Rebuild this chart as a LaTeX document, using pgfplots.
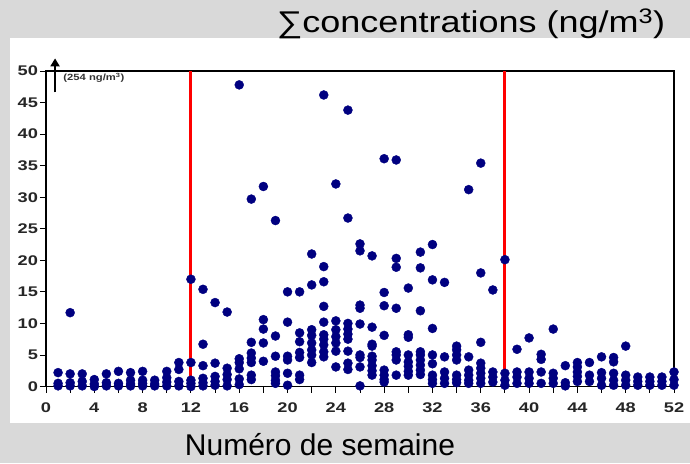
\documentclass[border=0pt]{standalone}
\usepackage{pgfplots}
\pgfplotsset{compat=1.18}
\usepackage{pgfplotstable}
\usepackage{graphicx}
\usepackage{fontspec}
\setmainfont{Liberation Sans}
\usetikzlibrary{arrows.meta,calc}

\pgfdeclarelayer{background}
\pgfsetlayers{background,main}

\definecolor{bggray}{RGB}{217,217,217}
\definecolor{navydot}{RGB}{0,0,128}
\definecolor{redline}{RGB}{255,0,0}

% weekly concentrations (ng/m3), one row per sample
\pgfplotstableread{
week conc
1 0.1
1 0.5
1 2.2
2 0.1
2 0.6
2 2.0
2 11.7
3 0.1
3 0.8
3 2.0
4 0.0
4 0.4
4 1.1
5 0.1
5 0.6
5 2.0
6 0.1
6 0.5
6 2.4
7 0.1
7 0.4
7 1.0
7 2.2
8 0.1
8 0.5
8 1.0
8 2.4
9 0.1
9 0.4
9 1.0
10 0.1
10 0.7
10 1.4
10 2.4
11 0.1
11 0.8
11 2.7
11 3.8
12 0.0
12 0.5
12 1.0
12 3.8
12 17.0
13 0.1
13 0.6
13 1.3
13 3.3
13 6.7
13 15.4
14 0.2
14 0.8
14 1.6
14 3.7
14 13.3
15 0.1
15 1.1
15 1.9
15 2.9
15 11.8
16 0.3
16 1.2
16 2.8
16 3.8
16 4.4
16 47.8
17 1.1
17 1.8
17 3.8
17 4.5
17 5.3
17 7.0
17 29.7
18 4.0
18 6.9
18 9.1
18 10.6
18 31.7
19 0.5
19 1.0
19 1.7
19 2.3
19 4.8
19 8.0
19 26.3
20 0.2
20 2.1
20 4.2
20 4.8
20 10.2
20 15.0
21 1.1
21 1.8
21 4.6
21 5.4
21 7.1
21 8.5
21 15.0
22 3.8
22 5.0
22 5.8
22 6.9
22 8.1
22 9.0
22 16.1
22 21.0
23 4.7
23 5.5
23 6.6
23 7.5
23 8.2
23 10.2
23 12.7
23 16.6
23 19.0
23 46.2
24 3.1
24 5.6
24 6.9
24 7.9
24 9.0
24 10.4
24 32.1
25 2.7
25 3.7
25 5.6
25 7.5
25 8.3
25 9.1
25 10.0
25 26.7
25 43.8
26 0.1
26 3.1
26 4.6
26 5.0
26 9.9
26 12.4
26 12.9
26 21.5
26 22.6
27 1.8
27 2.5
27 3.3
27 4.2
27 4.8
27 6.4
27 6.7
27 9.4
27 20.7
28 0.7
28 1.1
28 1.8
28 2.6
28 8.1
28 12.8
28 14.9
28 36.1
29 1.8
29 4.2
29 5.0
29 5.5
29 12.4
29 18.9
29 20.3
29 35.9
30 1.8
30 2.4
30 3.2
30 3.9
30 5.0
30 7.8
30 8.2
30 15.6
31 1.9
31 2.6
31 3.4
31 4.2
31 5.0
31 5.5
31 12.0
31 18.8
31 21.3
32 0.5
32 1.1
32 1.8
32 3.6
32 5.0
32 9.2
32 16.9
32 22.5
33 0.5
33 1.3
33 2.3
33 4.7
33 16.5
34 0.6
34 1.1
34 1.8
34 4.2
34 5.0
34 5.8
34 6.4
35 0.5
35 1.0
35 1.8
35 2.6
35 4.7
35 31.2
36 0.5
36 1.3
36 2.1
36 2.9
36 3.7
36 7.0
36 18.0
36 35.4
37 0.7
37 1.5
37 2.3
37 15.3
38 0.2
38 1.0
38 2.1
38 20.1
39 0.5
39 1.5
39 2.3
39 5.9
40 0.5
40 1.3
40 2.3
40 7.7
41 0.5
41 2.3
41 4.3
41 5.1
42 0.5
42 1.3
42 2.1
42 9.1
43 0.1
43 0.6
43 3.3
44 0.8
44 1.6
44 2.3
44 3.1
44 3.8
45 0.8
45 1.8
45 3.8
46 0.2
46 1.3
46 2.2
46 4.7
47 0.2
47 1.0
47 2.1
47 3.9
47 4.6
48 0.2
48 1.0
48 1.8
48 6.4
49 0.2
49 0.8
49 1.5
50 0.2
50 0.8
50 1.5
51 0.2
51 0.8
51 1.5
52 0.2
52 1.1
52 2.3
}\weekly

\begin{document}
\begin{tikzpicture}[x=1pt,y=1pt]
\begin{axis}[
  name=ax,
  scale only axis, width=628pt, height=315.5pt,
  xmin=0, xmax=52, ymin=0, ymax=50,
  xtick={0,4,...,52}, minor xtick={2,6,...,50},
  ytick={0,5,...,50},
  tick align=outside,
  major tick length=6pt, minor tick length=6pt,
  tick style={black, line width=0.9pt},
  axis line style={black, line width=1.3pt},
  xtick pos=bottom, ytick pos=left,
  xticklabel={\scalebox{1.3}[1]{\bfseries\pgfmathprintnumber[assume math mode=true]{\tick}}},
  yticklabel={\scalebox{1.3}[1]{\bfseries\pgfmathprintnumber[assume math mode=true]{\tick}}},
  ticklabel style={font=\fontsize{14}{14}\selectfont, text=black!85},
  xticklabel style={yshift=-7pt},
  yticklabel style={xshift=1.5pt},
  clip=false,
]
\coordinate (O0) at (axis cs:0,0);
\addplot[only marks, mark=*, mark size=4.5pt,
  mark options={draw=navydot, fill=navydot}]
  table[x=week, y=conc] {\weekly};
\addplot[redline, line width=3pt] coordinates {(12,0) (12,50)};
\addplot[redline, line width=3pt] coordinates {(38,0) (38,50)};
\draw[black, line width=2.8pt, -{Triangle[length=8pt,width=9pt]}]
  (axis cs:0.75,46.6) -- (axis cs:0.75,52.0);
\node[anchor=west, font=\bfseries\fontsize{9}{9}\selectfont, text=black!80]
  at (axis cs:1.15,48.9) {\scalebox{1.25}[1]{(254 ng/m\textsuperscript{3})}};
\end{axis}
% page frame measured from the plot origin
\coordinate (O) at ($(O0)+(-46,-76.5)$);
\begin{pgfonlayer}{background}
\fill[bggray] (O) rectangle ++(690,463);
\fill[white] ($(O)+(10,40)$) rectangle ++(680,385);
\end{pgfonlayer}
\node[font=\fontsize{30}{30}\selectfont, anchor=base] at ($(O)+(471,430)$)
  {\scalebox{1.2}[1]{∑concentrations (ng/m\textsuperscript{3})}};
\node[font=\fontsize{30}{30}\selectfont, anchor=base] at ($(O)+(320,8)$)
  {Numéro de semaine};
\pgfresetboundingbox
\useasboundingbox (O) rectangle ++(690,463);
\end{tikzpicture}
\end{document}
